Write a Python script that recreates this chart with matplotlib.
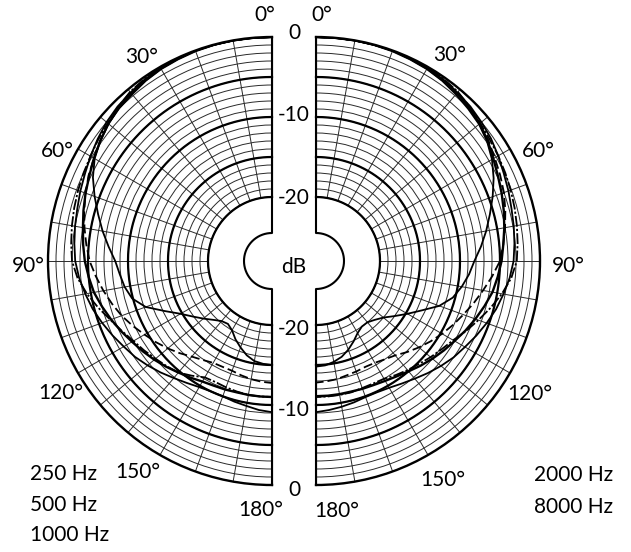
import numpy as np
import matplotlib
matplotlib.use("Agg")
import matplotlib.pyplot as plt

plt.rcParams["font.family"] = ["Lato", "DejaVu Sans"]

# ── data: level in dB every 5 degrees, 0..180 ───────────────────────────────
ANGLES = np.arange(0, 181, 5)

left_solid_a = [0, 0, 0, -0.05, -0.1, -0.2, -0.3, -0.5, -0.8, -1.0, -1.3,
                -1.8, -2.4, -3.3, -4.4, -5.5, -6.5, -7.5, -8.4, -8.9, -9.3,
                -9.9, -11.2, -13.2, -14.8, -15.9, -16.8, -17.6, -18.2, -18.4,
                -18.0, -17.2, -16.5, -15.8, -15.3, -15.1, -15.0]
left_dashed = [0, 0, 0, 0, 0, -0.1, -0.2, -0.3, -0.5, -0.9, -1.3, -1.8,
               -2.3, -2.7, -3.2, -3.7, -4.2, -4.7, -5.2, -5.9, -6.6, -7.3,
               -8.0, -8.8, -9.6, -10.3, -11.0, -11.7, -12.4, -12.9, -13.3,
               -13.4, -13.4, -13.2, -13.0, -12.85, -12.75]
left_dashdot = [0, 0, 0, 0, 0, -0.05, -0.1, -0.2, -0.4, -0.8, -1.2, -1.5,
                -1.8, -2.0, -2.2, -2.4, -2.6, -2.8, -3.0, -3.6, -4.5, -5.5,
                -6.5, -7.3, -8.0, -8.5, -9.0, -9.4, -9.8, -10.5, -11.2,
                -11.3, -11.2, -11.1, -11.0, -11.0, -11.0]
left_solid_b = [0, 0, 0, 0, 0, -0.1, -0.2, -0.4, -0.6, -0.9, -1.3, -1.8,
                -2.3, -2.8, -3.2, -3.6, -4.0, -4.3, -4.6, -5.0, -5.4, -6.0,
                -6.6, -7.2, -7.8, -8.3, -8.8, -9.3, -9.8, -10.2, -10.6,
                -10.8, -10.9, -11.0, -11.0, -11.0, -11.0]
left_solid_c = [0, 0, 0, 0, 0, -0.1, -0.2, -0.3, -0.5, -0.7, -1.0, -1.4,
                -1.8, -2.2, -2.5, -2.8, -3.0, -3.2, -3.4, -3.8, -4.3, -4.8,
                -5.4, -6.0, -6.6, -7.1, -7.7, -8.3, -8.9, -9.4, -9.8, -10.0,
                -10.0, -9.8, -9.6, -9.3, -9.1]

right_solid_a = [0, 0, 0, -0.05, -0.1, -0.2, -0.3, -0.5, -0.8, -1.1, -1.4,
                 -1.9, -2.6, -3.5, -4.5, -5.5, -6.4, -7.3, -8.2, -8.8, -9.5,
                 -10.3, -11.6, -13.4, -14.8, -16.0, -17.0, -17.6, -18.0,
                 -18.0, -17.6, -16.9, -16.2, -15.6, -15.2, -14.9, -14.8]
right_dashed = [0, 0, 0, 0, 0, -0.1, -0.2, -0.3, -0.5, -0.9, -1.3, -1.7,
                -2.2, -2.6, -3.0, -3.5, -4.0, -4.5, -5.0, -5.9, -6.8, -7.6,
                -8.4, -9.1, -9.8, -10.5, -11.2, -11.9, -12.6, -13.0, -13.3,
                -13.4, -13.3, -13.2, -13.0, -12.9, -12.8]
right_dashdot = [0, 0, 0, 0, 0, -0.05, -0.1, -0.2, -0.4, -0.8, -1.2, -1.5,
                 -1.7, -1.9, -2.1, -2.3, -2.5, -2.7, -2.9, -3.5, -4.4, -5.4,
                 -6.4, -7.3, -8.2, -8.8, -9.3, -9.8, -10.2, -10.6, -11.0,
                 -11.1, -11.1, -11.0, -11.0, -11.0, -11.0]
right_solid_b = [0, 0, 0, 0, 0, -0.1, -0.2, -0.4, -0.6, -0.9, -1.3, -1.8,
                 -2.4, -2.9, -3.3, -3.7, -4.1, -4.5, -4.8, -5.2, -5.6, -6.2,
                 -6.8, -7.4, -8.0, -8.5, -9.0, -9.5, -10.0, -10.4, -10.7,
                 -10.9, -11.0, -11.1, -11.1, -11.1, -11.1]
right_solid_c = [0, 0, 0, 0, 0, -0.1, -0.2, -0.3, -0.5, -0.7, -1.0, -1.3,
                 -1.7, -2.1, -2.4, -2.7, -2.9, -3.1, -3.3, -3.7, -4.2, -4.7,
                 -5.3, -5.9, -6.5, -7.0, -7.6, -8.2, -8.8, -9.3, -9.7, -9.9,
                 -9.9, -9.7, -9.5, -9.3, -9.1]

LEFT_LABELS = ["250 Hz", "500 Hz", "1000 Hz"]
RIGHT_LABELS = ["2000 Hz", "8000 Hz"]
DEG_TICKS = [0, 30, 60, 90, 120, 150, 180]
DB_TICKS = [0, -10, -20]

# ── styles ──────────────────────────────────────────────────────────────────
STYLES = [
    dict(ls="-", lw=1.3),
    dict(ls=(0, (5, 2.2)), lw=1.3),
    dict(ls=(0, (6, 1.2, 1.2, 1.2)), lw=1.3),
    dict(ls="-", lw=1.7),
    dict(ls="-", lw=1.3),
]

W, H = 631, 552
R_MIN, R_MAX, R_ORIGIN, R_HOLE = -20, 0, -28, -24.5
RAD = 224          # outer radius in px
CY = 261           # centre y in px (from top)


def px(x, y):
    return x / W, 1 - y / H


def half_axes(fig, mid_x):
    # a half-disc wedge is fitted centred inside a square box
    ax = fig.add_axes([(mid_x - RAD) / W, (H - CY - RAD) / H,
                       2 * RAD / W, 2 * RAD / H], projection="polar")
    ax.patch.set_alpha(0)
    return ax


def setup_half(ax, direction):
    ax.set_theta_zero_location("N")
    ax.set_theta_direction(direction)
    ax.set_thetamin(0)
    ax.set_thetamax(180)
    ax.set_rlim(R_MIN, R_MAX)
    ax.set_rorigin(R_ORIGIN)
    ax.set_rticks(np.arange(R_MIN, R_MAX + 1, 1))
    ax.set_yticklabels([])
    ax.set_thetagrids(np.arange(0, 181, 10), labels=[""] * 19)
    ax.grid(True, color="#2a2a2a", lw=0.7)
    ax.tick_params(length=0)
    for name in ("inner", "start", "end"):
        ax.spines[name].set_visible(False)
    ax.spines["polar"].set_linewidth(1.7)

    t = np.linspace(0, np.pi, 361)
    for lev in (-5, -10, -15, -20):
        ax.plot(t, np.full_like(t, lev), color="black", lw=1.6,
                clip_on=False, zorder=3)

    # straight edge and the small half circle around the centre
    edge_t = np.concatenate([[0, 0], t, [np.pi, np.pi]])
    edge_r = np.concatenate([[R_MAX, R_HOLE], np.full_like(t, R_HOLE),
                             [R_HOLE, R_MAX]])
    ax.plot(edge_t, edge_r, color="black", lw=1.5, clip_on=False, zorder=4)


def draw_curves(ax, series):
    th = np.deg2rad(ANGLES)
    for vals, st in zip(series, STYLES):
        ax.plot(th, vals, color="black", zorder=5, **st,
                solid_joinstyle="round")


fig = plt.figure(figsize=(W / 100, H / 100), dpi=100)
fig.patch.set_facecolor("white")

ax_l = half_axes(fig, 160)   # disc spans x 48..272
ax_r = half_axes(fig, 428)   # disc spans x 316..540
setup_half(ax_l, 1)
setup_half(ax_r, -1)

draw_curves(ax_l, [left_solid_a, left_dashed, left_dashdot,
                   left_solid_b, left_solid_c])
draw_curves(ax_r, [right_solid_a, right_dashed, right_dashdot,
                   right_solid_b, right_solid_c])

FS = 15
# angle labels (left / right half)
left_pos = [(265, 15), (142, 57), (57, 151), (28, 266), (61, 393),
            (138, 472), (261, 510)]
right_pos = [(322, 15), (450, 55), (538, 151), (568, 266), (530, 394),
             (443, 480), (337, 511)]
for d, (x, y) in zip(DEG_TICKS, left_pos):
    fig.text(*px(x, y), f"{d}°", ha="center", va="center", fontsize=FS)
for d, (x, y) in zip(DEG_TICKS, right_pos):
    fig.text(*px(x, y), f"{d}°", ha="center", va="center", fontsize=FS)

# dB scale in the gap
for lev, yt, yb in zip(DB_TICKS, [33, 115, 198], [490, 410, 329]):
    lab = "0" if lev == 0 else f"-{abs(lev)}"
    fig.text(*px(294, yt), lab, ha="center", va="center", fontsize=FS)
    fig.text(*px(294, yb), lab, ha="center", va="center", fontsize=FS)
fig.text(*px(294, 267), "dB", ha="center", va="center", fontsize=FS)

# frequency captions
for lab, y in zip(LEFT_LABELS, [474, 505, 535]):
    fig.text(*px(30, y), lab, ha="left", va="center", fontsize=FS)
for lab, y in zip(RIGHT_LABELS, [475, 507]):
    fig.text(*px(534, y), lab, ha="left", va="center", fontsize=FS)

fig.savefig("out.png", dpi=100, facecolor="white")
